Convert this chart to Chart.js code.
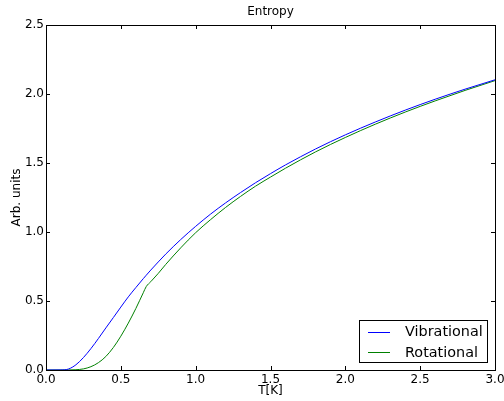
<!DOCTYPE html>
<html lang="en">
<head>
  <meta charset="UTF-8" />
  <title>Entropy</title>
  <script src="https://cdn.jsdelivr.net/npm/chart.js@4.4.0/dist/chart.umd.min.js"></script>
  <style>
    html, body { margin: 0; padding: 0; background: white; overflow: hidden; }
    #wrap { width: 504px; height: 401px; }
  </style>
</head>
<body>
<div id="wrap"><canvas id="entropyChart"></canvas></div>

<script>
// temperatures (T[K]) shared by both curves
const temps = [0, 0.1, 0.15, 0.2, 0.25, 0.3, 0.35, 0.4, 0.45, 0.5, 0.55, 0.6, 0.65, 0.67, 0.7, 0.75,
               0.8, 0.9, 1.0, 1.1, 1.2, 1.3, 1.4, 1.5, 1.6, 1.8, 2.0, 2.2, 2.4, 2.6, 2.8, 3.0];

const vibrational = [0, 0.0005, 0.007, 0.038, 0.09, 0.155, 0.228, 0.305, 0.38, 0.456, 0.53, 0.597, 0.662, 0.687, 0.724, 0.783,
                     0.84, 0.945, 1.041, 1.13, 1.211, 1.286, 1.357, 1.423, 1.486, 1.601, 1.704, 1.797, 1.883, 1.962, 2.035, 2.103];

const rotational = [0, 0, 0.0003, 0.002, 0.008, 0.024, 0.053, 0.098, 0.163, 0.245, 0.34, 0.445, 0.56, 0.605, 0.64, 0.70,
                    0.765, 0.885, 0.995, 1.09, 1.178, 1.258, 1.332, 1.398, 1.462, 1.58, 1.685, 1.781, 1.869, 1.95, 2.026, 2.097];

const xTicks = [0, 0.5, 1.0, 1.5, 2.0, 2.5, 3.0];
const yTicks = [0, 0.5, 1.0, 1.5, 2.0, 2.5];

const FONT = 'DejaVu Sans';
const TITLE = 'Entropy';

const toPoints = vals => temps.map((t, i) => ({ x: t, y: vals[i] }));

// matplotlib-like frame with inward ticks on every side, plus the title over the plot
const framePlugin = {
  id: 'frame',
  afterDatasetsDraw(chart) {
    const { ctx, chartArea: a, scales } = chart;
    ctx.save();
    ctx.strokeStyle = '#000';
    ctx.lineWidth = 1;
    ctx.strokeRect(a.left + 0.5, a.top + 0.5, a.right - a.left, a.bottom - a.top);
    ctx.beginPath();
    xTicks.forEach(v => {
      const px = Math.round(scales.x.getPixelForValue(v)) + 0.5;
      ctx.moveTo(px, a.bottom); ctx.lineTo(px, a.bottom - 4);
      ctx.moveTo(px, a.top); ctx.lineTo(px, a.top + 4);
    });
    yTicks.forEach(v => {
      const py = Math.round(scales.y.getPixelForValue(v)) + 0.5;
      ctx.moveTo(a.left, py); ctx.lineTo(a.left + 4, py);
      ctx.moveTo(a.right, py); ctx.lineTo(a.right - 4, py);
    });
    ctx.stroke();

    ctx.fillStyle = '#000';
    ctx.font = '12px "' + FONT + '"';
    ctx.textAlign = 'center';
    ctx.textBaseline = 'middle';
    ctx.fillText(TITLE, (a.left + a.right) / 2, a.top - 13);
    ctx.restore();
  }
};

// boxed legend in the lower right corner of the plot
const boxLegend = {
  id: 'boxLegend',
  afterDraw(chart) {
    const { ctx, chartArea: a } = chart;
    const w = 128, h = 42;
    const x0 = a.right - 8 - w, y0 = a.bottom - 8 - h;
    ctx.save();
    ctx.fillStyle = '#fff';
    ctx.fillRect(x0, y0, w, h);
    ctx.strokeStyle = '#000';
    ctx.lineWidth = 1;
    ctx.strokeRect(x0 + 0.5, y0 + 0.5, w, h);
    ctx.font = '14.4px "' + FONT + '"';
    ctx.textBaseline = 'middle';
    chart.data.datasets.forEach((ds, i) => {
      const cy = y0 + 11.5 + i * 20.5;
      ctx.strokeStyle = ds.borderColor;
      ctx.beginPath();
      ctx.moveTo(x0 + 9, Math.round(cy) + 0.5);
      ctx.lineTo(x0 + 31, Math.round(cy) + 0.5);
      ctx.stroke();
      ctx.fillStyle = '#000';
      ctx.fillText(ds.label, x0 + 46, cy + 1);
    });
    ctx.restore();
  }
};

new Chart(document.getElementById('entropyChart').getContext('2d'), {
  type: 'line',
  data: {
    datasets: [
      { label: 'Vibrational', data: toPoints(vibrational), borderColor: '#0000ff', borderWidth: 1, pointRadius: 0, fill: false, cubicInterpolationMode: 'monotone' },
      { label: 'Rotational', data: toPoints(rotational), borderColor: '#008000', borderWidth: 1, pointRadius: 0, fill: false, cubicInterpolationMode: 'monotone' }
    ]
  },
  options: {
    responsive: true,
    maintainAspectRatio: false,
    animation: false,
    devicePixelRatio: 1,
    layout: { padding: { left: 0, right: 9, top: 25, bottom: 0 } },
    plugins: {
      legend: { display: false },
      tooltip: { enabled: false },
      title: { display: false }
    },
    scales: {
      x: {
        type: 'linear', min: 0, max: 3,
        grid: { display: false, drawTicks: false },
        border: { display: false },
        afterBuildTicks: s => { s.ticks = xTicks.map(v => ({ value: v })); },
        afterFit: s => { s.height = 31; s.paddingLeft = 0; s.paddingRight = 0; },
        ticks: { color: '#000', padding: 3, maxRotation: 0, autoSkip: false, font: { family: FONT, size: 12 }, callback: v => v.toFixed(1) },
        title: { display: true, text: 'T[K]', color: '#000', font: { family: FONT, size: 12 }, padding: { top: 0, bottom: 3 } }
      },
      y: {
        type: 'linear', min: 0, max: 2.5,
        grid: { display: false, drawTicks: false },
        border: { display: false },
        afterBuildTicks: s => { s.ticks = yTicks.map(v => ({ value: v })); },
        afterFit: s => { s.width = 46; s.paddingTop = 0; s.paddingBottom = 0; },
        ticks: { color: '#000', padding: 2, autoSkip: false, font: { family: FONT, size: 12 }, callback: v => v.toFixed(1) },
        title: { display: true, text: 'Arb. units', color: '#000', font: { family: FONT, size: 12 }, padding: { top: 10, bottom: 0 } }
      }
    }
  },
  plugins: [framePlugin, boxLegend]
});
</script>
</body>
</html>
